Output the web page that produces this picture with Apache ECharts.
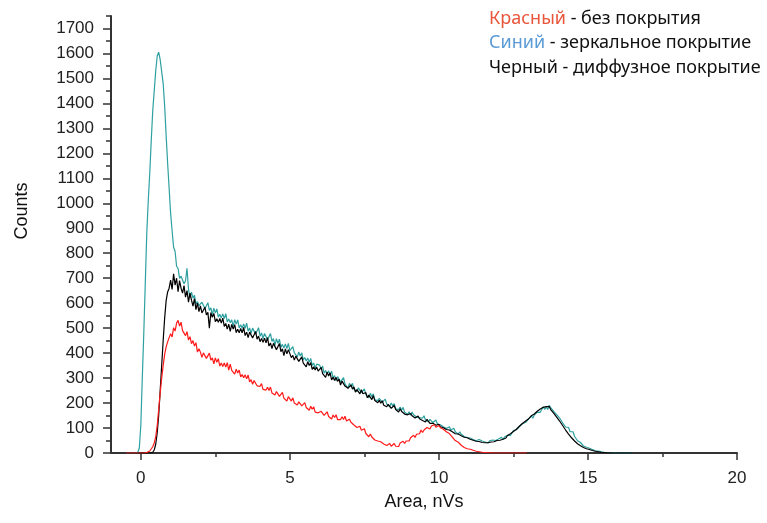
<!DOCTYPE html>
<html>
<head>
<meta charset="utf-8">
<script src="https://cdn.jsdelivr.net/npm/echarts@6/dist/echarts.min.js"></script>
<style>
html,body{margin:0;padding:0;background:#fff}
#chart{width:767px;height:523px}
</style>
</head>
<body>
<div id="chart"></div>
<script>
// kanaly gistogrammy: x ot -0.5 s shagom 0.05 nVs
const areaStart = -0.5;
const areaStep = 0.05;

// Синий - зеркальное покрытие
const mirror = [
  0, 0, 0, 0, 0, 0, 0, 0, 3, 20,
  110, 300, 480, 680, 880, 1010, 1120, 1250, 1370, 1450, 1530, 1590, 1605, 1575, 1580, 1480, 1390, 1270, 1160, 1060,
  960, 890, 824, 808, 748, 739, 699, 708, 704, 678, 690, 740, 656, 622, 644, 620, 632, 596, 606, 590,
  584, 604, 607, 579, 584, 602, 571, 581, 554, 580, 561, 577, 544, 556, 541, 557, 538, 558, 525, 537,
  522, 533, 507, 534, 516, 533, 501, 514, 500, 517, 499, 520, 488, 501, 479, 500, 504, 477, 483, 502,
  468, 481, 458, 479, 482, 454, 459, 478, 447, 458, 431, 458, 439, 456, 423, 435, 420, 437, 418, 439,
  410, 412, 426, 401, 408, 385, 405, 388, 401, 373, 382, 368, 380, 364, 379, 351, 360, 340, 356, 357,
  352, 335, 348, 320, 330, 316, 329, 312, 328, 300, 310, 290, 306, 307, 285, 287, 302, 276, 284, 261,
  279, 265, 279, 255, 263, 246, 261, 262, 242, 245, 257, 234, 241, 221, 239, 225, 237, 213, 221, 210,
  219, 219, 203, 205, 216, 196, 202, 185, 200, 189, 198, 177, 184, 174, 184, 171, 183, 163, 169, 155,
  165, 151, 164, 153, 161, 144, 150, 142, 149, 139, 149, 132, 138, 125, 135, 136, 122, 124, 132, 116,
  122, 113, 119, 105, 109, 98, 104, 105, 92, 92, 99, 85, 87, 75, 85, 75, 80, 66, 70, 62,
  67, 60, 65, 54, 57, 49, 54, 54, 46, 48, 53, 44, 47, 40, 49, 45, 52, 44, 50, 49,
  56, 52, 63, 54, 64, 59, 71, 77, 70, 77, 90, 83, 93, 89, 106, 104, 117, 110, 122, 122,
  135, 132, 149, 139, 152, 147, 164, 171, 163, 171, 185, 174, 184, 174, 191, 182, 188, 167, 168, 154,
  154, 140, 141, 121, 120, 104, 106, 102, 85, 82, 85, 67, 65, 49, 55, 42, 45, 28, 31, 23,
  25, 19, 20, 14, 14, 9, 10, 8, 6, 5, 5, 3, 4, 2, 2, 1, 1, 1, 0, 0,
  0, 0, 0, 0, 0, 0, 0, 0, 0, 0
];

// Черный - диффузное покрытие
const diffuse = [
  0, 0, 0, 0, 0, 0, 0, 0, 0, 0,
  0, 0, 0, 0, 0, 0, 0, 0, 3, 12, 35, 80, 150, 250, 350, 450, 540, 610, 645, 660,
  692, 655, 718, 672, 700, 646, 690, 660, 640, 670, 624, 650, 604, 640, 612, 588, 618, 574, 600, 566,
  589, 561, 566, 584, 553, 563, 500, 562, 543, 559, 526, 538, 523, 539, 520, 540, 507, 519, 496, 516,
  487, 515, 496, 514, 482, 496, 481, 499, 481, 503, 470, 484, 462, 484, 487, 461, 467, 487, 456, 468,
  446, 459, 443, 460, 441, 462, 428, 441, 418, 439, 441, 414, 419, 438, 406, 417, 390, 417, 397, 414,
  409, 382, 391, 372, 388, 390, 367, 370, 385, 360, 367, 345, 366, 350, 362, 335, 345, 332, 344, 328,
  328, 343, 318, 325, 303, 324, 308, 321, 293, 303, 290, 303, 287, 296, 272, 288, 290, 268, 275, 259,
  259, 273, 256, 265, 244, 254, 254, 237, 253, 237, 230, 242, 221, 232, 225, 214, 230, 210, 216, 201,
  211, 199, 209, 191, 197, 185, 195, 195, 179, 182, 190, 174, 179, 164, 177, 166, 174, 156, 162, 153,
  151, 158, 149, 155, 140, 147, 148, 137, 145, 130, 135, 124, 135, 130, 119, 127, 119, 125, 111, 116,
  115, 105, 112, 101, 104, 94, 100, 92, 97, 85, 87, 77, 84, 76, 81, 69, 72, 63, 68, 61,
  62, 55, 59, 51, 53, 47, 51, 46, 48, 42, 46, 41, 46, 41, 48, 44, 49, 45, 51, 50,
  54, 51, 59, 55, 63, 60, 70, 66, 77, 75, 86, 84, 95, 92, 107, 104, 118, 114, 127, 125,
  136, 134, 149, 143, 156, 152, 167, 162, 176, 170, 183, 176, 186, 178, 186, 174, 176, 160, 159, 144,
  144, 128, 127, 110, 108, 92, 91, 76, 75, 61, 60, 48, 48, 37, 37, 29, 28, 22, 22, 17,
  16, 14, 12, 10, 8, 7, 6, 5, 4, 3, 3, 2, 2, 1, 1, 1, 0, 0, 0, 0,
  0, 0, 0, 0, 0, 0, 0, 0, 0, 0
];

// Красный - без покрытия
const bare = [
  0, 0, 0, 0, 0, 0, 0, 0, 0, 0,
  0, 0, 0, 0, 2, 5, 8, 15, 25, 40, 65, 110, 175, 240, 300, 350, 395, 425, 445, 462,
  478, 465, 502, 488, 520, 531, 508, 524, 490, 498, 470, 486, 452, 466, 438, 450, 428, 442, 404, 418,
  404, 383, 401, 404, 379, 383, 400, 372, 381, 357, 381, 363, 378, 348, 360, 346, 361, 344, 362, 332,
  356, 331, 338, 316, 336, 320, 332, 305, 314, 301, 313, 297, 312, 285, 294, 275, 290, 292, 269, 272,
  267, 278, 255, 263, 252, 263, 250, 264, 240, 248, 232, 246, 247, 227, 231, 243, 220, 227, 208, 226,
  221, 208, 221, 200, 207, 192, 205, 205, 189, 191, 202, 182, 189, 171, 187, 175, 185, 164, 171, 161,
  155, 167, 168, 151, 154, 165, 146, 153, 136, 152, 142, 153, 134, 142, 134, 145, 134, 147, 128, 135,
  135, 123, 131, 112, 116, 102, 109, 107, 91, 90, 97, 78, 81, 65, 76, 64, 70, 52, 57, 48,
  54, 45, 51, 36, 40, 30, 37, 38, 27, 29, 38, 27, 33, 26, 40, 36, 47, 38, 48, 46,
  48, 61, 58, 71, 62, 75, 82, 77, 92, 82, 92, 86, 102, 103, 96, 108, 104, 113, 103, 110,
  110, 101, 107, 95, 96, 85, 89, 78, 80, 64, 63, 50, 53, 43, 45, 31, 33, 22, 25, 17,
  20, 15, 15, 11, 10, 7, 7, 5, 5, 3, 3, 2, 2, 1, 1, 1, 0, 0, 0, 0,
  0, 0, 0, 0, 0, 0, 0, 0, 0, 0, 0, 0, 0, 0, 0, 0, 0, 0, 0, 0
];

const xMajor = [0, 5, 10, 15, 20];
const xMinor = [2.5, 7.5, 12.5, 17.5];
const yMajor = [0, 100, 200, 300, 400, 500, 600, 700, 800, 900, 1000, 1100, 1200, 1300, 1400, 1500, 1600, 1700];
const yMinor = [50, 150, 250, 350, 450, 550, 650, 750, 850, 950, 1050, 1150, 1250, 1350, 1450, 1550, 1650, 1750];

function pairs(arr) {
  return arr.map(function (v, i) {
    return [Math.round((areaStart + i * areaStep) * 100) / 100, v];
  });
}

const axisColor = '#333';
const labelFont = { color: '#222', fontSize: 17, fontFamily: 'Liberation Sans' };

let myChart = echarts.init(document.getElementById('chart'));
let option = {
  animation: false,
  backgroundColor: '#fff',
  grid: { left: 111, right: 30, top: 16, bottom: 70 },
  xAxis: [{
    type: 'value', min: -1, max: 20,
    name: 'Area, nVs', nameLocation: 'middle', nameGap: 40,
    nameTextStyle: { color: '#111', fontSize: 18, fontFamily: 'Liberation Sans' },
    axisLine: { onZero: false, lineStyle: { color: axisColor, width: 2 } },
    axisTick: { customValues: xMajor, length: 7, lineStyle: { color: axisColor, width: 1.5 } },
    axisLabel: Object.assign({ customValues: xMajor, margin: 17, formatter: function (v) { return String(v); } }, labelFont),
    splitLine: { show: false }
  }, {
    type: 'value', min: -1, max: 20, position: 'bottom',
    axisLine: { show: false, onZero: false },
    axisTick: { customValues: xMinor, length: 4, lineStyle: { color: axisColor, width: 1.5 } },
    axisLabel: { show: false },
    splitLine: { show: false }
  }],
  yAxis: [{
    type: 'value', min: 0, max: 1750,
    axisLine: { show: true, onZero: false, lineStyle: { color: axisColor, width: 2 } },
    axisTick: { show: true, customValues: yMajor, length: 8, lineStyle: { color: axisColor, width: 1.5 } },
    axisLabel: Object.assign({ customValues: yMajor, margin: 17, formatter: function (v) { return String(v); } }, labelFont),
    splitLine: { show: false }
  }, {
    type: 'value', min: 0, max: 1750, position: 'left',
    axisLine: { show: false, onZero: false },
    axisTick: { show: true, customValues: yMinor, length: 5, lineStyle: { color: axisColor, width: 1.5 } },
    axisLabel: { show: false },
    splitLine: { show: false }
  }],
  graphic: [
    {
      type: 'text', x: 22, y: 211, rotation: Math.PI / 2,
      style: { text: 'Counts', fill: '#111', fontSize: 18, fontFamily: 'Liberation Sans', align: 'center', verticalAlign: 'middle' }
    },
    {
      type: 'text', x: 489, y: 19,
      style: {
        text: '{r|Красный}{k| - без покрытия}', verticalAlign: 'middle',
        rich: {
          r: { fill: '#e8553a', fontSize: 18, fontFamily: 'Noto Sans' },
          k: { fill: '#111', fontSize: 18, fontFamily: 'Noto Sans' }
        }
      }
    },
    {
      type: 'text', x: 489, y: 43,
      style: {
        text: '{b|Синий}{k| - зеркальное покрытие}', verticalAlign: 'middle',
        rich: {
          b: { fill: '#5b9bd5', fontSize: 18, fontFamily: 'Noto Sans' },
          k: { fill: '#111', fontSize: 18, fontFamily: 'Noto Sans' }
        }
      }
    },
    {
      type: 'text', x: 489, y: 68,
      style: {
        text: '{k|Черный - диффузное покрытие}', verticalAlign: 'middle',
        rich: {
          k: { fill: '#111', fontSize: 18, fontFamily: 'Noto Sans' }
        }
      }
    }
  ],
  series: [
    {
      type: 'line', data: pairs(mirror), showSymbol: false, symbol: 'none',
      lineStyle: { color: '#2fa0a0', width: 1.2 }, itemStyle: { color: '#2fa0a0' }
    },
    {
      type: 'line', data: pairs(diffuse), showSymbol: false, symbol: 'none',
      lineStyle: { color: '#000', width: 1.2 }, itemStyle: { color: '#000' }
    },
    {
      type: 'line', data: pairs(bare), showSymbol: false, symbol: 'none',
      lineStyle: { color: '#ff1a1a', width: 1.2 }, itemStyle: { color: '#ff1a1a' }
    }
  ]
};
myChart.setOption(option);
</script>
</body>
</html>
